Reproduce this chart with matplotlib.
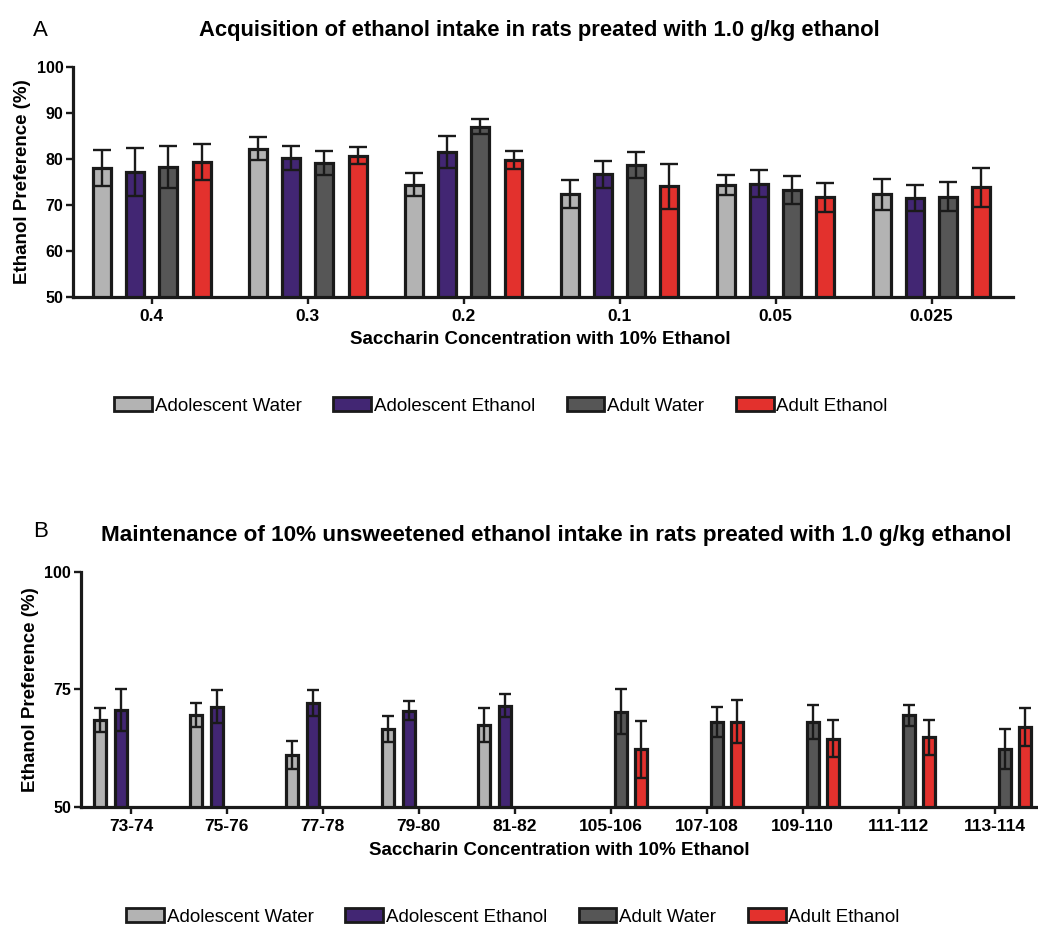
import matplotlib.pyplot as plt
import numpy as np
from matplotlib.patches import Patch

plt.rcParams['font.family'] = ['Liberation Sans', 'DejaVu Sans']

group_names = ['Adolescent Water', 'Adolescent Ethanol', 'Adult Water', 'Adult Ethanol']
group_colors = ['#b3b3b3', '#422673', '#565656', '#e3312d']
edge = '#1a1a1a'

# A: acquisition, saccharin + 10% ethanol
concentrations = ['0.4', '0.3', '0.2', '0.1', '0.05', '0.025']
acq_adol_water = [78.0, 82.2, 74.4, 72.4, 74.3, 72.3]
acq_adol_water_sem = [4.0, 2.5, 2.5, 3.0, 2.2, 3.4]
acq_adol_eth = [77.2, 80.2, 81.5, 76.6, 74.6, 71.5]
acq_adol_eth_sem = [5.2, 2.7, 3.4, 3.0, 2.9, 2.9]
acq_adult_water = [78.3, 79.0, 87.0, 78.6, 73.2, 71.8]
acq_adult_water_sem = [4.6, 2.6, 1.6, 2.8, 3.1, 3.2]
acq_adult_eth = [79.3, 80.7, 79.8, 74.0, 71.6, 73.8]
acq_adult_eth_sem = [3.9, 1.8, 2.0, 4.9, 3.1, 4.2]

# B: maintenance, unsweetened 10% ethanol (None = not measured)
days = ['73-74', '75-76', '77-78', '79-80', '81-82',
        '105-106', '107-108', '109-110', '111-112', '113-114']
maint_adol_water = [68.4, 69.5, 61.0, 66.5, 67.3, None, None, None, None, None]
maint_adol_water_sem = [2.5, 2.6, 2.9, 2.7, 3.6, None, None, None, None, None]
maint_adol_eth = [70.6, 71.3, 72.0, 70.4, 71.5, None, None, None, None, None]
maint_adol_eth_sem = [4.5, 3.6, 2.8, 2.0, 2.4, None, None, None, None, None]
maint_adult_water = [None, None, None, None, None, 70.2, 68.1, 68.0, 69.4, 62.3]
maint_adult_water_sem = [None, None, None, None, None, 4.8, 3.2, 3.6, 2.2, 4.2]
maint_adult_eth = [None, None, None, None, None, 62.2, 68.1, 64.5, 64.8, 67.0]
maint_adult_eth_sem = [None, None, None, None, None, 6.1, 4.5, 4.0, 3.7, 4.0]


def grouped_bars(ax, labels, series, errors, width, capsize, pitch=0.213):
    x = np.arange(len(labels))
    for i, (vals, err, color) in enumerate(zip(series, errors, group_colors)):
        vals = np.array([np.nan if v is None else v for v in vals], dtype=float)
        err = np.array([np.nan if e is None else e for e in err], dtype=float)
        keep = ~np.isnan(vals)
        xi = x[keep] + (i - 1.5) * pitch
        ax.bar(xi, vals[keep], width, color=color, edgecolor=edge,
               linewidth=2.3, zorder=2)
        ax.errorbar(xi, vals[keep], yerr=err[keep], fmt='none', ecolor=edge,
                    elinewidth=1.7, capsize=capsize, capthick=1.7, zorder=3)
    ax.set_xticks(x)
    ax.set_xticklabels(labels)
    for side in ['top', 'right']:
        ax.spines[side].set_visible(False)
    for side in ['left', 'bottom']:
        ax.spines[side].set_linewidth(2.3)
        ax.spines[side].set_color(edge)
    ax.tick_params(direction='out', length=5, width=1.7, color=edge)
    ax.tick_params(axis='x', labelsize=12.5, pad=4)
    ax.tick_params(axis='y', labelsize=11.5, pad=2)
    for lab in ax.get_xticklabels() + ax.get_yticklabels():
        lab.set_fontweight('bold')
    ax.set_ylabel('Ethanol Preference (%)', fontsize=13.5, fontweight='bold')
    ax.set_xlabel('Saccharin Concentration with 10% Ethanol',
                  fontsize=13.5, fontweight='bold')


fig = plt.figure(figsize=(10.38, 9.3), dpi=100)

axA = fig.add_axes([0.0706, 0.681, 0.905, 0.247])
grouped_bars(axA, concentrations,
             [acq_adol_water, acq_adol_eth, acq_adult_water, acq_adult_eth],
             [acq_adol_water_sem, acq_adol_eth_sem, acq_adult_water_sem, acq_adult_eth_sem],
             width=0.115, capsize=6.5)
axA.set_xlim(-0.503, 5.52)
axA.set_ylim(50, 100)
axA.set_yticks([50, 60, 70, 80, 90, 100])
axA.yaxis.set_label_coords(-0.045, 0.5)
axA.xaxis.set_label_coords(0.497, -0.15)

axB = fig.add_axes([0.078, 0.1326, 0.921, 0.2527])
grouped_bars(axB, days,
             [maint_adol_water, maint_adol_eth, maint_adult_water, maint_adult_eth],
             [maint_adol_water_sem, maint_adol_eth_sem, maint_adult_water_sem, maint_adult_eth_sem],
             width=0.125, capsize=4.5)
axB.set_xlim(-0.52, 9.44)
axB.set_ylim(50, 100)
axB.set_yticks([50, 75, 100])
axB.yaxis.set_label_coords(-0.044, 0.5)
axB.xaxis.set_label_coords(0.5, -0.15)

fig.text(0.520, 0.9667, 'Acquisition of ethanol intake in rats preated with 1.0 g/kg ethanol',
         ha='center', va='center', fontsize=15.8, fontweight='bold')
fig.text(0.5356, 0.4247,
         'Maintenance of 10% unsweetened ethanol intake in rats preated with 1.0 g/kg ethanol',
         ha='center', va='center', fontsize=16.2, fontweight='bold')
fig.text(0.032, 0.9677, 'A', ha='left', va='center', fontsize=16)
fig.text(0.032, 0.428, 'B', ha='left', va='center', fontsize=16)

handles = [Patch(facecolor=c, edgecolor=edge, linewidth=2.0) for c in group_colors]
for ypos, xpos in [(1 - 406 / 930, 501 / 1038), (1 - 917 / 930, 513 / 1038)]:
    fig.legend(handles, group_names, loc='center', bbox_to_anchor=(xpos, ypos),
               ncol=4, frameon=False, fontsize=13.5, handlelength=2.0,
               handleheight=0.7, handletextpad=0.15, columnspacing=1.7,
               borderaxespad=0)

fig.savefig('out.png', dpi=100)
